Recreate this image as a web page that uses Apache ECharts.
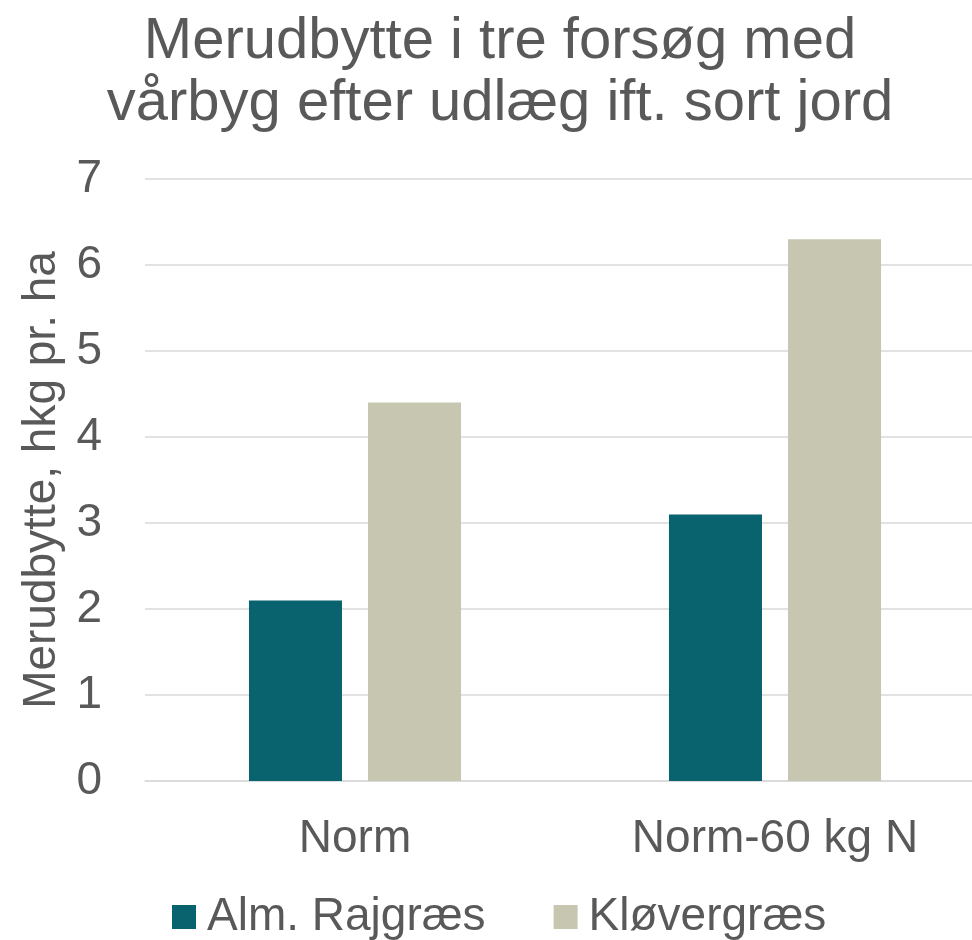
<!DOCTYPE html>
<html lang="da">
<head>
<meta charset="UTF-8">
<title>Merudbytte</title>
<script src="https://cdn.jsdelivr.net/npm/echarts@6/dist/echarts.min.js"></script>
<style>
  html, body { margin: 0; padding: 0; background: #fff; }
  #main { width: 972px; height: 940px; }
</style>
</head>
<body>
<div id="main"></div>
<script>
// data
var categories = ['Norm', 'Norm-60 kg N'];
var seriesNames = ['Alm. Rajgræs', 'Kløvergræs'];
var rajgraes = [2.1, 3.1];
var kloevergraes = [4.4, 6.3];

var textColor = '#595959';
var font = '"Liberation Sans", Arial, sans-serif';

var chart = echarts.init(document.getElementById('main'));

var option = {
    backgroundColor: '#fff',
    animation: false,
    textStyle: { fontFamily: font },
    title: {
        text: 'Merudbytte i tre forsøg med\nvårbyg efter udlæg ift. sort jord',
        left: 500,
        textAlign: 'center',
        top: 11,
        padding: 0,
        textStyle: {
            fontFamily: font,
            fontSize: 58,
            fontWeight: 'normal',
            color: textColor,
            lineHeight: 62
        }
    },
    legend: {
        data: seriesNames,
        left: 167,
        top: 889,
        itemWidth: 24,
        itemHeight: 24,
        itemGap: 68,
        icon: 'rect',
        textStyle: { fontFamily: font, fontSize: 46, color: textColor, padding: [0, 0, 0, 6] }
    },
    grid: {
        left: 145,
        top: 179,
        bottom: 159,
        right: -13,
        outerBoundsMode: 'none'
    },
    xAxis: {
        type: 'category',
        data: categories,
        axisLine: { lineStyle: { color: '#d9d9d9', width: 1.5 } },
        axisTick: { show: false },
        axisLabel: { fontFamily: font, fontSize: 46, color: textColor, margin: 35 }
    },
    yAxis: {
        type: 'value',
        min: 0,
        max: 7,
        interval: 1,
        name: 'Merudbytte, hkg pr. ha',
        nameLocation: 'middle',
        nameGap: 80,
        nameTextStyle: { fontFamily: font, fontSize: 46, color: textColor },
        axisLine: { show: false },
        axisTick: { show: false },
        axisLabel: { fontFamily: font, fontSize: 46, color: textColor, margin: 43 },
        splitLine: { lineStyle: { color: '#d9d9d9', width: 1.5 } }
    },
    series: [
        {
            name: seriesNames[0],
            type: 'bar',
            data: rajgraes,
            barWidth: 93,
            barGap: '28%',
            itemStyle: { color: '#08636f' }
        },
        {
            name: seriesNames[1],
            type: 'bar',
            data: kloevergraes,
            barWidth: 93,
            barGap: '28%',
            itemStyle: { color: '#c7c7b1' }
        }
    ]
};

chart.setOption(option);
</script>
</body>
</html>
